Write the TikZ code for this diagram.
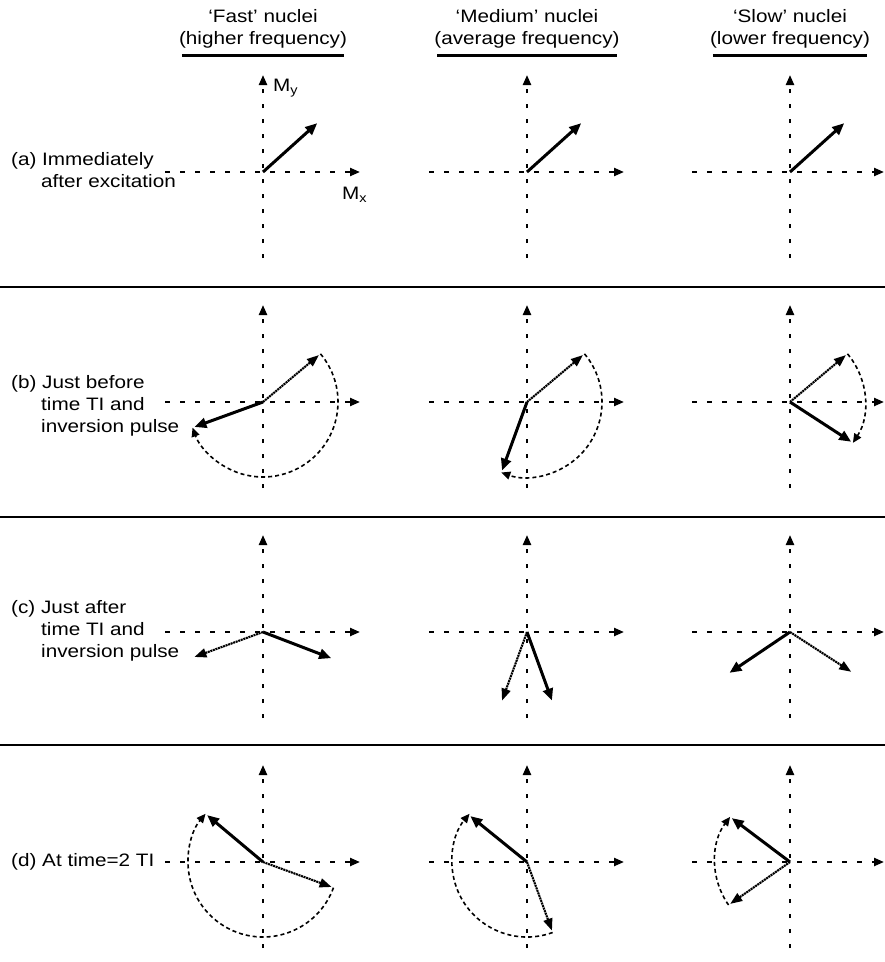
\documentclass[tikz,border=0pt]{standalone}
\usepackage{fontspec}
\setmainfont{Liberation Sans}[FakeStretch=1.15]
\usetikzlibrary{arrows.meta}
\newcommand\drawvec[4]{\coordinate (#3) at ([shift={(#2:73)}]#1);\draw[#4] (#1) -- (#3);}
\newcommand\drawswing[4]{\coordinate (#4) at ([shift={(#2:75)}]#1);\draw[swing] (#4) arc[start angle=#2,end angle=#3,radius=75];}
\begin{document}
\begin{tikzpicture}[x=1pt,y=1pt,
  axis/.style={line width=2.2pt,dash pattern=on 4.5pt off 10.5pt,-{Triangle[length=10pt,width=8pt]}},
  thickvec/.style={line width=3pt,-{Triangle[length=12pt,width=10pt]}},
  thinvec/.style={line width=2.1pt,dash pattern=on 2pt off 0.7pt,-{Triangle[length=12pt,width=9pt]}},
  swing/.style={line width=1.6pt,dash pattern=on 4pt off 3pt,-{Triangle[length=9pt,width=8pt]}},
  sepline/.style={line width=1.2pt},
  hdr/.style={inner sep=0pt,font=\fontsize{18}{22}\selectfont},
  lbl/.style={anchor=north west,align=left,inner sep=0pt,font=\fontsize{18}{22}\selectfont},
  axlbl/.style={inner sep=0pt,anchor=west,font=\fontsize{18}{22}\selectfont},
  uline/.style={line width=2.2pt}]
\useasboundingbox (0,0) rectangle (885,-962);

% headers
\node[hdr] (h1a) at (263,-16) {`Fast' nuclei};
\node[hdr] (h1b) at (263,-40) {(higher frequency)};
\node[hdr] (h2a) at (527,-16) {`Medium' nuclei};
\node[hdr] (h2b) at (527,-40) {(average frequency)};
\node[hdr] (h3a) at (790,-16) {`Slow' nuclei};
\node[hdr] (h3b) at (790,-40) {(lower frequency)};
\foreach \h in {h1b,h2b,h3b}{
  \draw[uline] ([xshift=3pt,yshift=-7pt]\h.south west) -- ([xshift=-3pt,yshift=-7pt]\h.south east);
}

% separators
\foreach \i/\y in {1/287,2/517,3/745}{
  \coordinate (sl\i) at (0,-\y);
  \coordinate (sr\i) at (885,-\y);
  \draw[sepline] (sl\i) -- (sr\i);
}

% row labels
\node[lbl] (la) at (11,-152) {(a) Immediately\\\hspace*{30pt}after excitation};
\node[lbl] (lb) at (11,-375) {(b) Just before\\\hspace*{30pt}time TI and\\\hspace*{30pt}inversion pulse};
\node[lbl] (lc) at (11,-600) {(c) Just after\\\hspace*{30pt}time TI and\\\hspace*{30pt}inversion pulse};
\node[lbl,anchor=west] (ld) at (11,-862) {(d) At time=2 TI};

% origins and axes
\foreach \c/\x/\w in {1/263/97,2/527/97,3/790/94}{
  \foreach \r/\y in {1/172,2/402,3/632,4/862}{
    \coordinate (o\c\r) at (\x,-\y);
    \coordinate (hl\c\r) at ([xshift=-98pt]o\c\r);
    \coordinate (hr\c\r) at ([xshift=\w pt]o\c\r);
    \coordinate (vb\c\r) at ([yshift=-86pt]o\c\r);
    \coordinate (vt\c\r) at ([yshift=97pt]o\c\r);
    \draw[axis] (hl\c\r) -- (hr\c\r);
    \draw[axis] (vb\c\r) -- (vt\c\r);
  }
}

% axis labels
\node[axlbl] (my) at (273,-88) {M\textsubscript{y}};
\node[axlbl] (mx) at (342,-195) {M\textsubscript{x}};

% row (a)
\drawvec{o11}{42}{a11}{thickvec}
\drawvec{o21}{42}{a21}{thickvec}
\drawvec{o31}{42}{a31}{thickvec}

% row (b)
\drawswing{o12}{40}{-160}{s12}
\drawvec{o12}{40}{b12}{thinvec}
\drawvec{o12}{200}{c12}{thickvec}
\drawswing{o22}{40}{-110}{s22}
\drawvec{o22}{40}{b22}{thinvec}
\drawvec{o22}{250}{c22}{thickvec}
\drawswing{o32}{40}{-33}{s32}
\drawvec{o32}{40}{b32}{thinvec}
\drawvec{o32}{-33}{c32}{thickvec}

% row (c)
\drawvec{o13}{200}{b13}{thinvec}
\drawvec{o13}{-21}{c13}{thickvec}
\drawvec{o23}{250}{b23}{thinvec}
\drawvec{o23}{-70}{c23}{thickvec}
\drawvec{o33}{-33}{b33}{thinvec}
\drawvec{o33}{214}{c33}{thickvec}

% row (d)
\drawswing{o14}{-20}{-220}{s14}
\drawvec{o14}{-20}{b14}{thinvec}
\drawvec{o14}{140}{c14}{thickvec}
\drawswing{o24}{-70}{-220}{s24}
\drawvec{o24}{-70}{b24}{thinvec}
\drawvec{o24}{141}{c24}{thickvec}
\drawswing{o34}{215}{143}{s34}
\drawvec{o34}{215}{b34}{thinvec}
\drawvec{o34}{143}{c34}{thickvec}
\end{tikzpicture}
\end{document}
